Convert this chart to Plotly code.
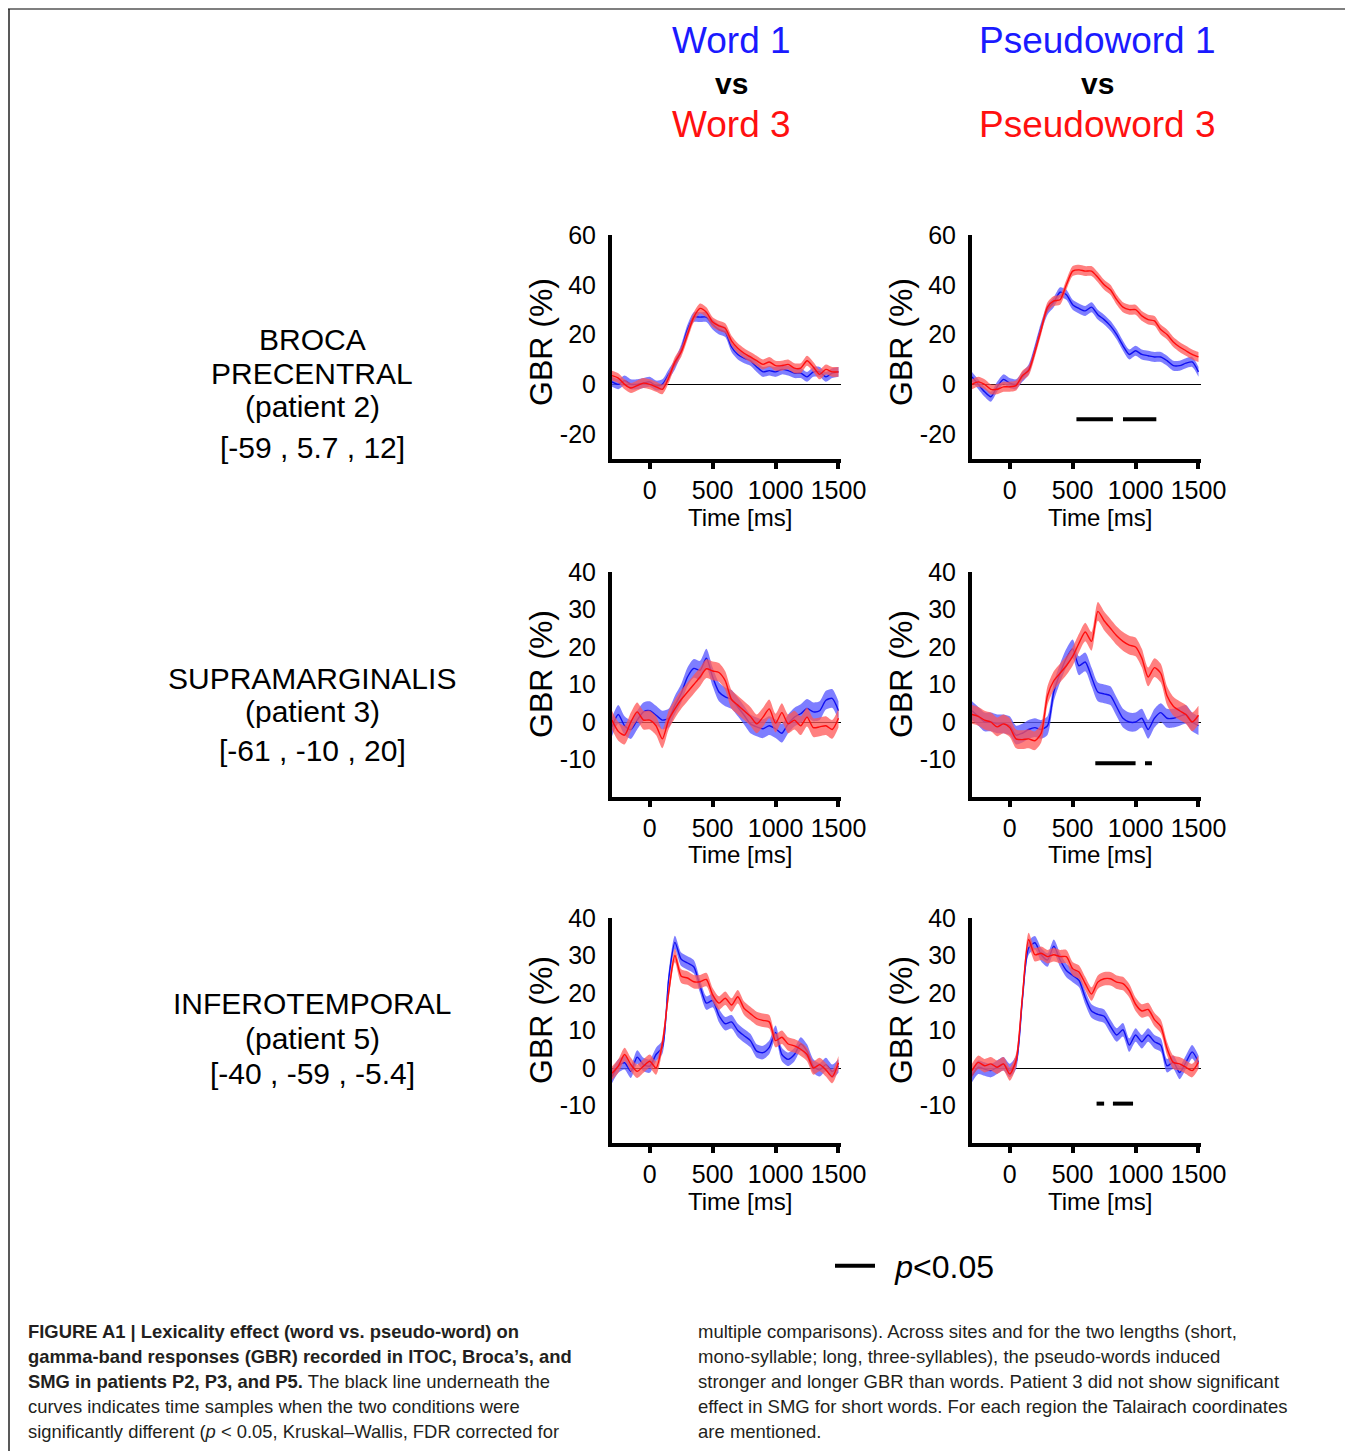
import plotly.graph_objects as go

# ---------------- data ----------------
TIME_MS = [-300, -250, -200, -150, -100, -50, 0, 50, 100, 150, 200, 250, 300, 350, 400, 450,
           500, 550, 600, 650, 700, 750, 800, 850, 900, 950, 1000, 1050, 1100, 1150, 1200,
           1250, 1300, 1350, 1400, 1450, 1500]

# Row 1: BROCA PRECENTRAL (patient 2)
BROCA_WORD1 = [1, 0, 1.5, 0, 0, 0.5, 1, -0.5, 0, 4, 8, 14, 22, 27, 27, 27, 24, 22, 21, 15, 12,
               10.5, 9.5, 7, 5, 5.5, 5, 6, 5.5, 4.5, 4.5, 3, 5, 5, 3, 4.5, 5]
BROCA_WORD3 = [3.5, 2.5, 0, -1.5, -0.5, 0.5, 0, -1, -2, 2.5, 9, 13, 20, 27, 30.5, 29, 25, 23.5,
               22.5, 17.5, 14.5, 12.5, 11, 9.5, 8, 9, 7.5, 7.5, 8, 6.5, 6.5, 9.5, 7, 4, 6, 5, 5]
BROCA_PSEUDO1 = [3, 0, -3, -5, -1, 2, 0.5, 0, 3, 6, 14, 23, 30, 33, 37, 36, 32, 30.5, 29.5, 31,
                 28, 26, 23.5, 20, 15.5, 12, 13.5, 12, 11.5, 11, 11, 9.5, 7.5, 7.5, 8.5, 9, 5]
BROCA_PSEUDO3 = [0, 1, 0, -2, -2, -1, -1, -0.5, 3.5, 5.5, 13, 22, 31, 33.5, 34, 40, 45.5, 46,
                 45.5, 45.5, 43, 40, 38, 34, 31, 30, 30, 27.5, 26, 25.5, 22, 20, 17, 15, 13.5, 12, 11]

# Row 2: SUPRAMARGINALIS (patient 3)
SMG_WORD1 = [-1.3, 2, -1, -2, 0.5, 2.7, 3, 1.8, 0.5, 1, 4.5, 7.6, 12, 14.3, 13.8, 17, 12, 8, 6.7,
             6, 4, 1.8, -0.5, -1.3, -1.8, -1, -1.8, -3, -0.5, 1.3, 2.2, 3.6, 2.7, 3, 5.8, 6.3, 3]
SMG_WORD3 = [0.5, -2.5, -3.5, 0, 2.7, 0.5, 0.5, -1, -4.5, 0.5, 3.5, 6, 8, 10, 12, 14.2, 13.6,
             13.2, 11, 6, 4.5, 3, 1.5, -0.5, 1.3, 3.5, -0.3, 2.5, -0.5, 0.5, -1, 1.3, -1.5, -1.3,
             -1, -2, 1]
SMG_PSEUDO1 = [3, 1.5, 0, 0, -0.5, -0.5, -1, -3.5, -3, -2, -1.5, -2, -1, 8, 13, 17, 19.5, 15, 16,
               12, 8, 7.5, 7, 4, 1, 0, 0, 1, -2, 1, 2.5, 1, 1, 1.5, 2, 0, -1]
SMG_PSEUDO3 = [2, 1.5, 0.5, 0, -1.3, -0.5, -1.5, -4.5, -4.7, -4.5, -5, -3, 7, 11, 13, 15, 17.5,
               21, 24, 21.5, 29.5, 27, 25, 23, 21.5, 20.5, 20, 17, 12, 14.5, 13, 7, 4.2, 3, 2, 0,
               1.8]

# Row 3: INFEROTEMPORAL (patient 5)
ITC_WORD1 = [-2.3, 0.5, 1.4, -0.9, 2.9, 0.9, 0.5, 3.6, 5.5, 23.6, 33.5, 29, 28, 27, 21.8, 17.3,
             18, 14, 11.8, 12.3, 10, 8.6, 7.3, 4.5, 4.1, 5.5, 9.5, 3.6, 2.3, 3.6, 6.4, 4.5, 0.5,
             -0.5, 0.9, -0.9, 0.5]
ITC_WORD3 = [-1.4, 0.5, 3.6, 0.9, -0.9, 0.5, 1.8, 0, 6.4, 20, 30, 24.5, 24, 23, 23, 23.6, 19.5,
             17.3, 18.6, 16.8, 19, 15.9, 14.5, 13.2, 12.7, 12.3, 7.3, 8.2, 6.4, 5.9, 5, 3.6, 0,
             0.9, -0.5, -2.3, 1.4]
ITC_PSEUDO1 = [-2, 0.2, -0.3, -0.7, 0.2, 1.1, -0.7, 1.5, 18, 32, 33.4, 30.2, 28.8, 32.5, 28.8,
               26, 24.7, 23.4, 18.8, 15.2, 14.3, 13.8, 11.1, 8.8, 10.2, 6.1, 8.8, 7, 8.8, 7, 6.1,
               0.6, 1.5, -1.2, 1.5, 4.3, 1.5]
ITC_PSEUDO3 = [-0.7, 1.5, 0.6, 1.1, 0.2, 1.1, -1.6, 2, 18.8, 34.3, 30.2, 30.6, 29.7, 30.2, 29.7,
               29.7, 26.5, 25.6, 22.5, 19.7, 22.9, 23.8, 23.8, 22.9, 22.5, 20.6, 17, 15.2, 15.6,
               12.9, 11.1, 5.2, 1.5, 1.1, 0.2, -0.7, 1.5]

# standard-error half-width of the shaded bands (per row)
SEM_BROCA = 2.0
SEM_SMG = 2.5
SEM_ITC = 1.8

# significant intervals (p<0.05), ms, and the GBR level they are drawn at
SIG_BROCA_PSEUDO = [(530, 820), (900, 1165)]
SIG_BROCA_LEVEL = -14
SIG_SMG_PSEUDO = [(680, 1000), (1075, 1130)]
SIG_SMG_LEVEL = -11
SIG_ITC_PSEUDO = [(690, 750), (820, 980)]
SIG_ITC_LEVEL = -9.5

X_TICKS = [0, 500, 1000, 1500]
Y_TICKS_ROW1 = [-20, 0, 20, 40, 60]
Y_TICKS_ROW23 = [-10, 0, 10, 20, 30, 40]

ROW_LABELS = [["BROCA", "PRECENTRAL", "(patient 2)", "[-59 , 5.7 , 12]"],
              ["SUPRAMARGINALIS", "(patient 3)", "[-61 , -10 , 20]"],
              ["INFEROTEMPORAL", "(patient 5)", "[-40 , -59 , -5.4]"]]

CAPTION_LEFT = [
    "<b>FIGURE A1 | Lexicality effect (word vs. pseudo-word) on</b>",
    "<b>gamma-band responses (GBR) recorded in ITOC, Broca\u2019s, and</b>",
    "<b>SMG in patients P2, P3, and P5.</b> The black line underneath the",
    "curves indicates time samples when the two conditions were",
    "significantly different (<i>p</i> < 0.05, Kruskal\u2013Wallis, FDR corrected for",
]
CAPTION_RIGHT = [
    "multiple comparisons). Across sites and for the two lengths (short,",
    "mono-syllable; long, three-syllables), the pseudo-words induced",
    "stronger and longer GBR than words. Patient 3 did not show significant",
    "effect in SMG for short words. For each region the Talairach coordinates",
    "are mentioned.",
]

# ---------------- figure ----------------
# the page body has an 8px margin, so the figure starts at page pixel (8, 8)
OFF = 8
W, H = 1353 - OFF, 1451 - OFF
BLUE = "#1010f0"
RED = "#ff0d0d"
BLUE_BAND = "rgba(90,90,255,0.78)"
RED_BAND = "rgba(255,85,85,0.75)"
FONT = "Liberation Sans, Arial, sans-serif"


def px_x(p):
    return (p - OFF) / W


def px_y(p):
    return 1 - (p - OFF) / H


COL_PX = [(612, 841), (972, 1201)]
ROW_PX = [(235, 459), (572, 797), (918, 1143)]
col_dom = [[px_x(a), px_x(b)] for a, b in COL_PX]
row_dom = [[px_y(b), px_y(a)] for a, b in ROW_PX]
row_range = [[-30, 60], [-20, 40], [-20, 40]]
row_ticks = [Y_TICKS_ROW1, Y_TICKS_ROW23, Y_TICKS_ROW23]
gbr_title_y = [342, 674, 1020]      # page px of the GBR title centre, per row
TIME_TITLE_DX = 128                 # px right of the y axis
TIME_TITLE_DY = 58                  # px below the x axis
GBR_TITLE_DX = -71                  # px left of the y axis

panels = [
    (BROCA_WORD1, BROCA_WORD3, SEM_BROCA, [], None),
    (BROCA_PSEUDO1, BROCA_PSEUDO3, SEM_BROCA, SIG_BROCA_PSEUDO, SIG_BROCA_LEVEL),
    (SMG_WORD1, SMG_WORD3, SEM_SMG, [], None),
    (SMG_PSEUDO1, SMG_PSEUDO3, SEM_SMG, SIG_SMG_PSEUDO, SIG_SMG_LEVEL),
    (ITC_WORD1, ITC_WORD3, SEM_ITC, [], None),
    (ITC_PSEUDO1, ITC_PSEUDO3, SEM_ITC, SIG_ITC_PSEUDO, SIG_ITC_LEVEL),
]

fig = go.Figure()
legend_shown = False
for i, (s1, s3, sem, sig, level) in enumerate(panels):
    k = i + 1
    xa = "x" if k == 1 else f"x{k}"
    ya = "y" if k == 1 else f"y{k}"
    for series, band, line in [(s1, BLUE_BAND, BLUE), (s3, RED_BAND, RED)]:
        upper = [v + sem for v in series]
        lower = [v - sem for v in series]
        fig.add_trace(go.Scatter(x=TIME_MS, y=upper, mode="lines",
                                 line=dict(width=0, shape="spline", smoothing=0.7),
                                 xaxis=xa, yaxis=ya, showlegend=False, hoverinfo="skip"))
        fig.add_trace(go.Scatter(x=TIME_MS, y=lower, mode="lines",
                                 line=dict(width=0, shape="spline", smoothing=0.7),
                                 fill="tonexty", fillcolor=band,
                                 xaxis=xa, yaxis=ya, showlegend=False, hoverinfo="skip"))
        fig.add_trace(go.Scatter(x=TIME_MS, y=series, mode="lines",
                                 line=dict(color=line, width=1.4, shape="spline", smoothing=0.7),
                                 xaxis=xa, yaxis=ya, showlegend=False))
    for (a, b) in sig:
        fig.add_trace(go.Scatter(x=[a, b], y=[level, level], mode="lines",
                                 line=dict(color="black", width=4),
                                 xaxis=xa, yaxis=ya, name="\u00a0\u2009<i>p</i><0.05",
                                 showlegend=not legend_shown))
        legend_shown = True

layout = dict(
    width=W, height=H, margin=dict(l=0, r=0, t=0, b=0),
    paper_bgcolor="white", plot_bgcolor="white",
    font=dict(family=FONT, color="black"),
    showlegend=True,
    legend=dict(x=px_x(830), y=px_y(1266), xanchor="left", yanchor="middle",
                font=dict(size=32, family=FONT), bgcolor="rgba(0,0,0,0)", itemwidth=40),
)
annotations = []
for i in range(6):
    k = i + 1
    r, c = divmod(i, 2)
    xkey = "xaxis" if k == 1 else f"xaxis{k}"
    ykey = "yaxis" if k == 1 else f"yaxis{k}"
    ya = "y" if k == 1 else f"y{k}"
    xa = "x" if k == 1 else f"x{k}"
    layout[xkey] = dict(domain=col_dom[c], anchor=ya, range=[-300, 1520],
                        tickvals=X_TICKS, ticks="outside", ticklen=6, tickwidth=4, tickcolor="black",
                        showline=True, linewidth=4, linecolor="black", showgrid=False, zeroline=False,
                        tickfont=dict(size=25), ticklabelstandoff=0, automargin=False)
    # inward tick stubs so the ticks cross the axis line
    layout[f"xaxis{6 + k}"] = dict(domain=col_dom[c], anchor=ya, overlaying=xa, range=[-300, 1520],
                                   tickvals=X_TICKS, ticks="inside", ticklen=5, tickwidth=4,
                                   tickcolor="black", showticklabels=False, showline=False,
                                   showgrid=False, zeroline=False, automargin=False)
    layout[ykey] = dict(domain=row_dom[r], anchor=xa, range=row_range[r],
                        tickvals=row_ticks[r], ticktext=[str(v) for v in row_ticks[r]],
                        ticks="", showline=True, linewidth=4, linecolor="black",
                        showgrid=False, zeroline=True, zerolinecolor="black", zerolinewidth=1,
                        tickfont=dict(size=25), ticklabelstandoff=7, automargin=False)
    x0, x1 = COL_PX[c]
    y0, y1 = ROW_PX[r]
    pw, ph = x1 - x0, y1 - y0
    annotations.append(dict(xref=f"{xa} domain", yref=f"{ya} domain",
                            x=TIME_TITLE_DX / pw, y=-TIME_TITLE_DY / ph,
                            text="Time [ms]", showarrow=False, xanchor="center", yanchor="middle",
                            font=dict(size=24, family=FONT)))
    annotations.append(dict(xref=f"{xa} domain", yref=f"{ya} domain",
                            x=GBR_TITLE_DX / pw, y=(y1 - gbr_title_y[r]) / ph,
                            text="GBR (%)", textangle=-90, showarrow=False,
                            xanchor="center", yanchor="middle", font=dict(size=32, family=FONT)))
layout["annotations"] = annotations
fig.update_layout(**layout)

# column headers
headers = [("Word 1", "Word 3", 731), ("Pseudoword 1", "Pseudoword 3", 1097)]
for top, bot, cx in headers:
    fig.add_annotation(x=px_x(cx), y=px_y(40), xref="paper", yref="paper", text=top, showarrow=False,
                       font=dict(size=37, color="#1a1aff", family=FONT), xanchor="center", yanchor="middle")
    fig.add_annotation(x=px_x(cx), y=px_y(84), xref="paper", yref="paper", text="<b>vs</b>", showarrow=False,
                       font=dict(size=30, color="black", family=FONT), xanchor="center", yanchor="middle")
    fig.add_annotation(x=px_x(cx), y=px_y(124), xref="paper", yref="paper", text=bot, showarrow=False,
                       font=dict(size=37, color="#ff1010", family=FONT), xanchor="center", yanchor="middle")

# row labels
row_label_y = [[340, 373, 407, 447], [678, 712, 750], [1003, 1038, 1073]]
for lines, ys in zip(ROW_LABELS, row_label_y):
    for txt, yy in zip(lines, ys):
        fig.add_annotation(x=px_x(312), y=px_y(yy), xref="paper", yref="paper", text=txt, showarrow=False,
                           font=dict(size=30, family=FONT), xanchor="center", yanchor="middle")

# caption
for j, (l, rtxt) in enumerate(zip(CAPTION_LEFT, CAPTION_RIGHT)):
    yy = 1331 + 25 * j
    fig.add_annotation(x=px_x(26), y=px_y(yy), xref="paper", yref="paper", text=l, showarrow=False,
                       font=dict(size=18.4, family=FONT, color="#231f20"), xanchor="left", yanchor="middle")
    fig.add_annotation(x=px_x(696), y=px_y(yy), xref="paper", yref="paper", text=rtxt, showarrow=False,
                       font=dict(size=18.5, family=FONT, color="#231f20"), xanchor="left", yanchor="middle")

# page frame
fig.add_shape(type="line", xref="paper", yref="paper", x0=0, x1=1, y0=px_y(9), y1=px_y(9),
              line=dict(color="#7f7f7f", width=2))
fig.add_shape(type="line", xref="paper", yref="paper", x0=px_x(9), x1=px_x(9), y0=px_y(9), y1=0,
              line=dict(color="#222222", width=1.5))

fig.write_html("out.html")
